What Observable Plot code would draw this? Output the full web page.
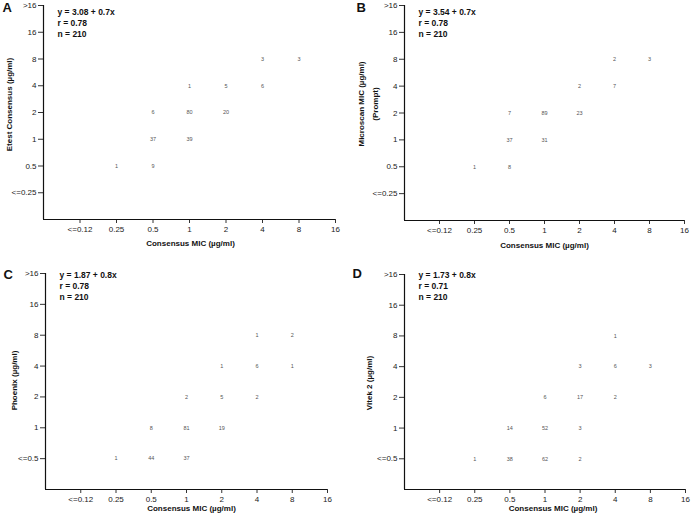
<!DOCTYPE html>
<html><head><meta charset="utf-8">
<script src="https://cdn.jsdelivr.net/npm/d3@7"></script>
<script src="https://cdn.jsdelivr.net/npm/@observablehq/plot@0.6"></script>
<style>
body{margin:0;background:#fff;}
#wrap{position:relative;width:691px;height:518px;overflow:hidden;background:#fff;}
.panel{position:absolute;}
</style></head><body><div id="wrap"></div>
<script>
// Category / tick labels
const xCats = ["<=0.12","0.25","0.5","1","2","4","8","16"];
const yCatsAB = ["<=0.25","0.5","1","2","4","8","16",">16"];
const yCatsCD = ["<=0.5","1","2","4","8","16",">16"];

// Panel A: Etest vs consensus
const aX = ["0.25","0.5","0.5","1","0.5","1","2","1","2","4","4","8"];
const aY = ["0.5","0.5","1","1","2","2","2","4","4","4","8","8"];
const aN = [1,9,37,39,6,80,20,1,5,6,3,3];
const aStats = ["y = 3.08 + 0.7x","r = 0.78","n = 210"];

// Panel B: Microscan (Prompt) vs consensus
const bX = ["0.25","0.5","0.5","1","0.5","1","2","2","4","4","8"];
const bY = ["0.5","0.5","1","1","2","2","2","4","4","8","8"];
const bN = [1,8,37,31,7,89,23,2,7,2,3];
const bStats = ["y = 3.54 + 0.7x","r = 0.78","n = 210"];

// Panel C: Phoenix vs consensus
const cX = ["0.25","0.5","1","0.5","1","2","1","2","4","2","4","8","4","8"];
const cY = ["<=0.5","<=0.5","<=0.5","1","1","1","2","2","2","4","4","4","8","8"];
const cN = [1,44,37,8,81,19,2,5,2,1,6,1,1,2];
const cStats = ["y = 1.87 + 0.8x","r = 0.78","n = 210"];

// Panel D: Vitek 2 vs consensus
const dX = ["0.25","0.5","1","2","0.5","1","2","1","2","4","2","4","8","4"];
const dY = ["<=0.5","<=0.5","<=0.5","<=0.5","1","1","1","2","2","2","4","4","4","8"];
const dN = [1,38,62,2,14,52,3,6,17,2,3,6,3,1];
const dStats = ["y = 1.73 + 0.8x","r = 0.71","n = 210"];

const xTitle = "Consensus MIC (\u00b5g/ml)";

const panels = [
  {letter:"A", xs:aX, ys:aY, ns:aN, stats:aStats, yCats:yCatsAB, yTitle:"Etest Consensus (\u00b5g/ml)",
   left:0, top:0, width:345, height:259, mL:43, mR:10, mT:5, mB:40,
   yTitleDx:-36, yTitleDy:-8, xTitleDx:1, xTitleDy:24, letterDx:-41, letterDy:-3, statsDy:1.5},
  {letter:"B", xs:bX, ys:bY, ns:bN, stats:bStats, yCats:yCatsAB, yTitle:"Microscan MIC (\u00b5g/ml)\n(Prompt)",
   left:345, top:0, width:346, height:259, mL:59, mR:7, mT:5, mB:39,
   yTitleDx:-38, yTitleDy:-9, xTitleDx:0, xTitleDy:25, letterDx:-48, letterDy:-3, statsDy:1.5},
  {letter:"C", xs:cX, ys:cY, ns:cN, stats:cStats, yCats:yCatsCD, yTitle:"Phoenix (\u00b5g/ml)",
   left:0, top:259, width:345, height:259, mL:45, mR:18, mT:14, mB:29,
   yTitleDx:-33, yTitleDy:-1, xTitleDx:5, xTitleDy:19, letterDx:-42, letterDy:-4, statsDy:-3},
  {letter:"D", xs:dX, ys:dY, ns:dN, stats:dStats, yCats:yCatsCD, yTitle:"Vitek 2 (\u00b5g/ml)",
   left:345, top:259, width:346, height:259, mL:59, mR:6, mT:15, mB:29,
   yTitleDx:-37, yTitleDy:1, xTitleDx:8, xTitleDy:19, letterDx:-52, letterDy:-6, statsDy:-4}
];

const FONT = "'Liberation Sans', Arial, Helvetica, sans-serif";
const wrap = document.getElementById("wrap");

for (const p of panels) {
  const rows = p.ns.map((n, i) => ({x: p.xs[i], y: p.ys[i], n}));
  const chart = Plot.plot({
    width: p.width, height: p.height,
    marginLeft: p.mL, marginRight: p.mR, marginTop: p.mT, marginBottom: p.mB,
    style: {fontFamily: FONT, fontSize: "8px", color: "#1a1a1a", background: "transparent", overflow: "visible"},
    x: {type: "linear", domain: [-1, xCats.length - 1]},
    y: {type: "linear", domain: [-1, p.yCats.length - 1]},
    marks: [
      Plot.axisX({ticks: d3.range(xCats.length), tickFormat: i => xCats[i], tickSize: 4, tickPadding: 3, fontSize: 8, label: null, stroke: "#333"}),
      Plot.axisY({ticks: d3.range(p.yCats.length), tickFormat: i => p.yCats[i], tickSize: 5, tickPadding: 2, fontSize: 8, label: null, stroke: "#333"}),
      Plot.ruleX([-1], {stroke: "#111", strokeWidth: 1.2}),
      Plot.ruleY([-1], {stroke: "#111", strokeWidth: 1.2}),
      Plot.text(rows, {x: d => xCats.indexOf(d.x), y: d => p.yCats.indexOf(d.y), text: d => String(d.n), fontSize: 5.5, fill: "#555"}),
      Plot.text([p.stats.join("\n")], {frameAnchor: "top-left", textAnchor: "start", lineAnchor: "top", dx: 14, dy: p.statsDy, fontWeight: "bold", fontSize: 8.5, lineHeight: 1.3, fill: "#111"}),
      Plot.text([p.letter], {frameAnchor: "top-left", textAnchor: "start", lineAnchor: "top", dx: p.letterDx, dy: p.letterDy, fontWeight: "bold", fontSize: 13, fill: "#111"}),
      Plot.text([p.yTitle], {frameAnchor: "left", textAnchor: "middle", lineAnchor: "middle", rotate: -90, dx: p.yTitleDx, dy: p.yTitleDy, fontWeight: "bold", fontSize: 8, lineHeight: 1.75, fill: "#111"}),
      Plot.text([xTitle], {frameAnchor: "bottom", textAnchor: "middle", lineAnchor: "middle", dx: p.xTitleDx, dy: p.xTitleDy, fontWeight: "bold", fontSize: 8, fill: "#111"})
    ]
  });
  chart.classList.add("panel");
  chart.style.left = p.left + "px";
  chart.style.top = p.top + "px";
  wrap.appendChild(chart);
}
</script>
</body></html>
